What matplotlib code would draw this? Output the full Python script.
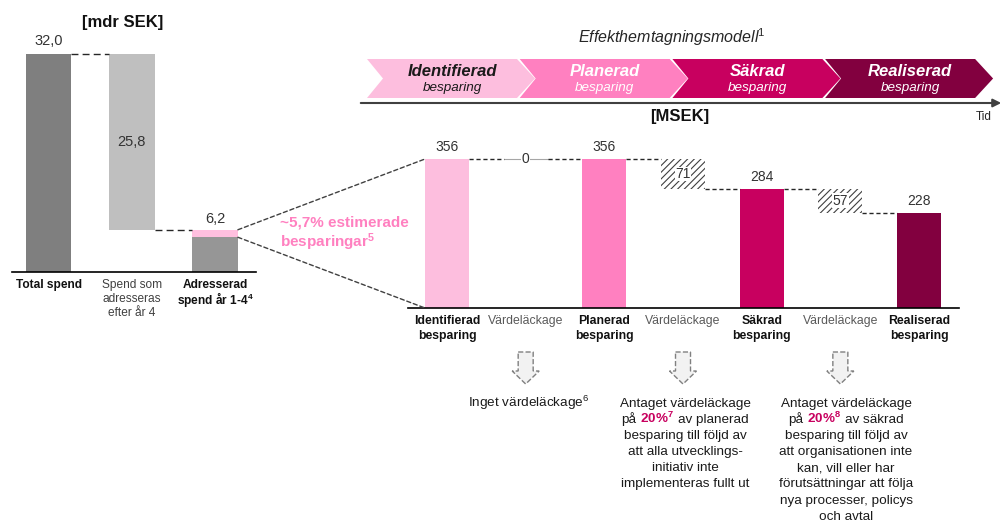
import matplotlib
matplotlib.use('Agg')
import matplotlib.pyplot as plt
from matplotlib.patches import Polygon, ConnectionPatch

plt.rcParams['font.family'] = ['Liberation Sans', 'DejaVu Sans']
plt.rcParams['mathtext.fontset'] = 'custom'
plt.rcParams['mathtext.rm'] = 'Liberation Sans'
plt.rcParams['mathtext.it'] = 'Liberation Sans:italic'
plt.rcParams['mathtext.bf'] = 'Liberation Sans:bold'
plt.rcParams['hatch.linewidth'] = 0.8

# ---- data ----
left_cats = ['Total spend', 'Spend som\nadresseras\nefter år 4', r'Adresserad' + '\n' + r'spend år 1-4$^{\mathbf{4}}$']
left_vals = [32.0, 25.8, 6.2]
left_labels = ['32,0', '25,8', '6,2']
savings_band = 1.1  # pink band on the last bar (drawn enlarged, as in the original)

stages = ['Identifierad', 'Planerad', 'Säkrad', 'Realiserad']
stage_vals = [356, 356, 284, 228]
leak_vals = [0, 71, 57]
stage_colors = ['#FDBEDE', '#FF80C0', '#C8005F', '#82003F']
right_cats = ['Identifierad\nbesparing', 'Värdeläckage', 'Planerad\nbesparing', 'Värdeläckage',
              'Säkrad\nbesparing', 'Värdeläckage', 'Realiserad\nbesparing']

notes = [
    [r'Inget värdeläckage$^{6}$'],
    ['Antaget värdeläckage', ('på', r'20%$^{\mathbf{7}}$', 'av planerad'), 'besparing till följd av',
     'att alla utvecklings-', 'initiativ inte', 'implementeras fullt ut'],
    ['Antaget värdeläckage', ('på', r'20%$^{\mathbf{8}}$', 'av säkrad'), 'besparing till följd av',
     'att organisationen inte', 'kan, vill eller har', 'förutsättningar att följa',
     'nya processer, policys', 'och avtal'],
]
note_x = [529, 685, 846]

W, H = 1008, 523
fig = plt.figure(figsize=(W / 100, H / 100), dpi=100)

# overlay in pixel coordinates for the decorations
ov = fig.add_axes([0, 0, 1, 1])
ov.set_xlim(0, W)
ov.set_ylim(H, 0)
ov.axis('off')


def axes_px(x0, x1, ytop, ybot):
    a = fig.add_axes([x0 / W, 1 - ybot / H, (x1 - x0) / W, (ybot - ytop) / H])
    a.set_facecolor('none')
    for s in ['top', 'right', 'left']:
        a.spines[s].set_visible(False)
    a.spines['bottom'].set_linewidth(1.2)
    a.set_xticks([])
    a.set_yticks([])
    return a


dark = '#262626'

# ---- left waterfall ----
pL, cL = 83.25, 48.5
axL = axes_px(12, 256, 33.56, 272)
axL.set_xlim((12 - cL) / pL, (256 - cL) / pL)
axL.set_ylim(0, 35)
bw = 0.55
axL.bar(0, left_vals[0], bw, color='#7F7F7F')
axL.bar(1, left_vals[0] - left_vals[2], bw, bottom=left_vals[2], color='#BFBFBF')
axL.bar(2, left_vals[2] - savings_band, bw, color='#969696')
axL.bar(2, savings_band, bw, bottom=left_vals[2] - savings_band, color='#FFBFDF')
axL.plot([bw / 2, 1 - bw / 2], [left_vals[0]] * 2, ls=(0, (5, 3)), color=dark, lw=1)
axL.plot([1 + bw / 2, 2 - bw / 2], [left_vals[2]] * 2, ls=(0, (5, 3)), color=dark, lw=1)
axL.annotate(left_labels[0], (0, left_vals[0]), xytext=(0, 4), textcoords='offset points',
             ha='center', va='bottom', fontsize=10.5, color='#333333')
axL.text(1, (left_vals[0] + left_vals[2]) / 2, left_labels[1], ha='center', va='center',
         fontsize=10.5, color='#333333')
axL.annotate(left_labels[2], (2, left_vals[2]), xytext=(0, 3), textcoords='offset points',
             ha='center', va='bottom', fontsize=10.5, color='#333333')
for i, c in enumerate(left_cats):
    axL.annotate(c, (i, 0), xycoords=('data', 'axes fraction'), xytext=(0, -5),
                 textcoords='offset points', ha='center', va='top', fontsize=8.6,
                 fontweight='normal' if i == 1 else 'bold',
                 color='#404040' if i == 1 else '#111111',
                 linespacing=0.95 if i == 2 else 1.2)

# ---- right waterfall ----
pR, cR = 78.67, 447
axR = axes_px(408, 959, 140.6, 308)
axR.set_xlim((408 - cR) / pR, (959 - cR) / pR)
axR.set_ylim(0, 400)
bwR = 0.56
for k, v in enumerate(stage_vals):
    i = 2 * k
    axR.bar(i, v, bwR, color=stage_colors[k])
    axR.annotate(str(v), (i, v), xytext=(0, 3.5), textcoords='offset points',
                 ha='center', va='bottom', fontsize=10, color='#333333')
for j, lv in enumerate(leak_vals):
    i = 2 * j + 1
    top, bot = stage_vals[j], stage_vals[j + 1]
    if lv == 0:
        axR.plot([i - bwR / 2, i + bwR / 2], [top, top], color='#A6A6A6', lw=0.8)
        axR.text(i, top, str(lv), ha='center', va='center', fontsize=10, color='#333333',
                 bbox=dict(facecolor='white', edgecolor='none', pad=0.5))
    else:
        axR.bar(i, top - bot, bwR, bottom=bot, color='white', hatch='/////',
                edgecolor='#404040', lw=0)
        axR.text(i, (top + bot) / 2, str(lv), ha='center', va='center', fontsize=10,
                 color='#333333', bbox=dict(facecolor='white', edgecolor='none', pad=0.3))
# connectors
for i in range(6):
    level = stage_vals[i // 2] if i % 2 == 0 else stage_vals[(i + 1) // 2]
    axR.plot([i + bwR / 2, i + 1 - bwR / 2], [level, level], ls=(0, (3, 2)), color=dark, lw=1)
for i, c in enumerate(right_cats):
    axR.annotate(c, (i, 0), xycoords=('data', 'axes fraction'), xytext=(0, -5),
                 textcoords='offset points', ha='center', va='top', fontsize=8.8,
                 fontweight='normal' if i % 2 else 'bold',
                 color='#595959' if i % 2 else '#111111', linespacing=1.3)

# zoom lines from the pink band to the right chart
for ya, yb in [(left_vals[2], stage_vals[0]), (left_vals[2] - savings_band, 0)]:
    cp = ConnectionPatch(xyA=(2 + bw / 2, ya), coordsA=axL.transData,
                         xyB=(-bwR / 2, yb), coordsB=axR.transData,
                         ls=(0, (3, 2)), color='#404040', lw=1)
    fig.add_artist(cp)
ov.text(280, 234, '~5,7% estimerade\n' + r'besparingar$^{\mathbf{5}}$', color='#FF80C0',
        fontweight='bold', fontsize=11, ha='left', va='center', linespacing=1.1)

# ---- header ----
ov.text(123, 22, '[mdr SEK]', ha='center', va='center', fontsize=12, fontweight='bold', color='#111111')
ov.text(672, 37, r'Effekthemtagningsmodell$^{1}$', ha='center', va='center', fontsize=11.5,
        style='italic', color=dark)
top_y, bot_y = 59, 98
mid_y = (top_y + bot_y) / 2
for k, name in enumerate(stages):
    l = 367 + 152.7 * k
    pts = [(l, top_y), (l + 150, top_y), (l + 168, mid_y), (l + 150, bot_y), (l, bot_y), (l + 16, mid_y)]
    ov.add_patch(Polygon(pts, closed=True, facecolor=stage_colors[k], edgecolor='none'))
    tc = '#1A1A1A' if k == 0 else 'white'
    ov.text(l + 85, 72, name, ha='center', va='center', fontsize=12, fontweight='bold',
            style='italic', color=tc)
    ov.text(l + 85, 88, 'besparing', ha='center', va='center', fontsize=9.7, style='italic', color=tc)
ov.annotate('', xy=(1004, 103), xytext=(358, 103),
            arrowprops=dict(arrowstyle='-|>', color='#404040', lw=1.5, mutation_scale=12))
ov.text(984, 117, 'Tid', ha='center', va='center', fontsize=8.5, color=dark)
ov.text(680, 117, '[MSEK]', ha='center', va='center', fontsize=12, fontweight='bold', color='#111111')

# ---- down arrows and notes ----
renderer = fig.canvas.get_renderer()
fs = 9.7
space = 0.278 * fs * 100 / 72
for j in range(len(leak_vals)):
    cx = cR + pR * (2 * j + 1)
    pts = [(cx - 7.5, 352), (cx + 7.5, 352), (cx + 7.5, 371), (cx + 13.5, 371), (cx, 384),
           (cx - 13.5, 371), (cx - 7.5, 371)]
    ov.add_patch(Polygon(pts, closed=True, facecolor='#F2F2F2', edgecolor='#808080', ls='--', lw=1))
    for n, line in enumerate(notes[j]):
        yb = 407 + 16.1 * n
        if isinstance(line, tuple):
            parts = [ov.text(0, yb, line[0], fontsize=fs, color='#1A1A1A', va='baseline'),
                     ov.text(0, yb, line[1], fontsize=fs, color='#C8005F', fontweight='bold', va='baseline'),
                     ov.text(0, yb, line[2], fontsize=fs, color='#1A1A1A', va='baseline')]
            ws = [t.get_window_extent(renderer).width for t in parts]
            x = note_x[j] - (sum(ws) + 2 * space) / 2
            for t, w in zip(parts, ws):
                t.set_x(x)
                x += w + space
        else:
            ov.text(note_x[j], yb, line, ha='center', va='baseline', fontsize=fs, color='#1A1A1A')

fig.savefig('out.png', dpi=100)
